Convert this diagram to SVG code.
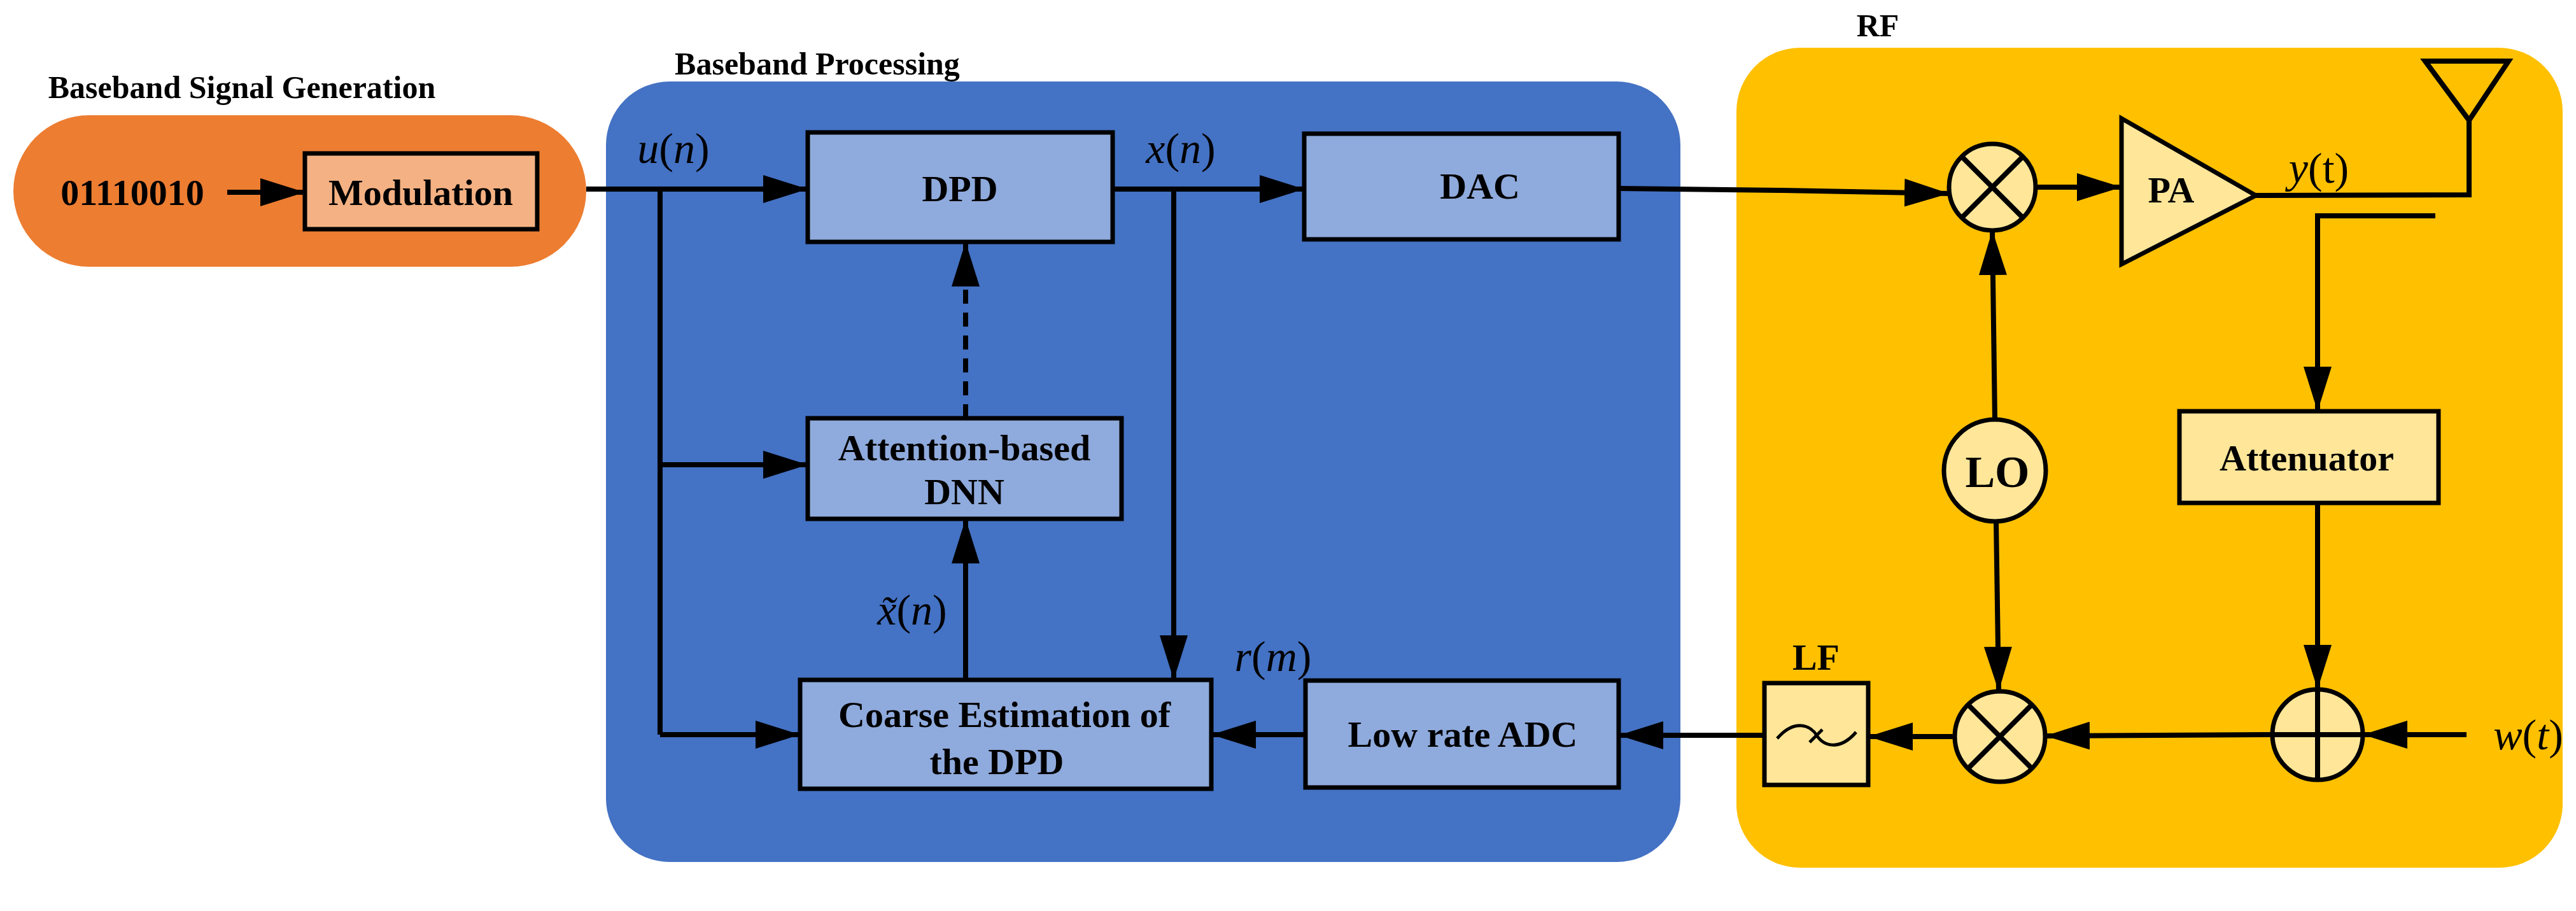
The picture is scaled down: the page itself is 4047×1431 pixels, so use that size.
<svg xmlns="http://www.w3.org/2000/svg" width="4047" height="1431" viewBox="0 0 4047 1431">
<defs>
<marker id="a" viewBox="0 0 10 10" refX="10" refY="5" markerWidth="70" markerHeight="44" markerUnits="userSpaceOnUse" preserveAspectRatio="none" orient="auto"><path d="M0,0 L10,5 L0,10 z" fill="#000"/></marker>
</defs>
<style>
.t{font-family:"Liberation Serif",serif;font-weight:bold;fill:#000;text-anchor:middle;dominant-baseline:central}
.m{font-family:"Liberation Serif",serif;font-style:italic;fill:#000;font-size:68px;text-anchor:middle;dominant-baseline:central}
.bx{stroke:#000;stroke-width:7}
.ln{stroke:#000;stroke-width:8;fill:none}
.bl{fill:#8FAADC}.yl{fill:#FFE699}
</style>
<g id="groups">
<rect x="21" y="181" width="900" height="238" rx="119" fill="#ED7D31"/>
<rect x="952" y="128" width="1688" height="1226" rx="100" fill="#4472C4"/>
<rect x="2728" y="75" width="1298" height="1288" rx="100" fill="#FFC000"/>
<text class="t" x="380" y="137" font-size="50">Baseband Signal Generation</text>
<text class="t" x="1284" y="100" font-size="50">Baseband Processing</text>
<text class="t" x="2950" y="40" font-size="50">RF</text>
</g>
<g id="bits"><text class="t" x="208" y="302" font-size="58">01110010</text></g>
<g id="modulation"><rect class="bx" x="479" y="241" width="365" height="119" fill="#F4B183"/><text class="t" x="661" y="302" font-size="58">Modulation</text></g>
<g id="dpd"><rect class="bx bl" x="1269" y="208" width="479" height="172"/><text class="t" x="1508" y="296" font-size="58">DPD</text></g>
<g id="dac"><rect class="bx bl" x="2049" y="210" width="494" height="166"/><text class="t" x="2325" y="292" font-size="58">DAC</text></g>
<g id="dnn"><rect class="bx bl" x="1269" y="657" width="493" height="158"/><text class="t" x="1515" y="703" font-size="58">Attention-based</text><text class="t" x="1515" y="772" font-size="58">DNN</text></g>
<g id="coarse"><rect class="bx bl" x="1257" y="1068" width="646" height="171"/><text class="t" x="1578" y="1122" font-size="58">Coarse Estimation of</text><text class="t" x="1566" y="1196" font-size="58">the DPD</text></g>
<g id="adc"><rect class="bx bl" x="2051" y="1069" width="492" height="168"/><text class="t" x="2298" y="1153" font-size="58">Low rate ADC</text></g>
<g id="mixer1"><circle class="bx yl" cx="3130" cy="294" r="68"/><path class="ln" d="M3082,246 L3178,342 M3178,246 L3082,342" stroke-width="6"/></g>
<g id="pa"><polygon class="bx yl" points="3333,186 3333,415 3544,307"/><text class="t" x="3411" y="298" font-size="58">PA</text></g>
<g id="antenna"><polygon class="ln" points="3810,96 3941,96 3879,189"/></g>
<g id="lo"><circle class="bx yl" cx="3134" cy="739" r="80"/><text class="t" x="3138" y="741" font-size="70">LO</text></g>
<g id="attenuator"><rect class="bx yl" x="3424" y="646" width="407" height="144"/><text class="t" x="3624" y="719" font-size="58">Attenuator</text></g>
<g id="adder"><circle class="bx yl" cx="3641" cy="1154" r="71"/><path class="ln" d="M3570,1154 L3712,1154 M3641,1083 L3641,1225" stroke-width="6"/></g>
<g id="mixer2"><circle class="bx yl" cx="3142" cy="1157" r="71"/><path class="ln" d="M3092,1107 L3192,1207 M3192,1107 L3092,1207" stroke-width="6"/></g>
<g id="lf"><rect class="bx yl" x="2772" y="1073" width="163" height="160"/><path d="M2792,1160 C2820,1128 2845,1140 2854,1155 C2865,1172 2890,1180 2916,1150 M2843,1166 L2863,1146" stroke="#000" stroke-width="5" fill="none"/><text class="t" x="2853" y="1032" font-size="58">LF</text></g>
<g id="labels">
<text class="m" x="1058" y="233">u<tspan font-style="normal">(</tspan>n<tspan font-style="normal">)</tspan></text>
<text class="m" x="1855" y="233">x<tspan font-style="normal">(</tspan>n<tspan font-style="normal">)</tspan></text>
<text class="m" x="1433" y="958">x̃<tspan font-style="normal">(</tspan>n<tspan font-style="normal">)</tspan></text>
<text class="m" x="2000" y="1031">r<tspan font-style="normal">(</tspan>m<tspan font-style="normal">)</tspan></text>
<text class="m" x="3643" y="264">y<tspan font-style="normal">(t)</tspan></text>
<text class="m" x="3972" y="1154">w<tspan font-style="normal">(</tspan>t<tspan font-style="normal">)</tspan></text>
</g>
<g id="connectors">
<line class="ln" x1="357" y1="302" x2="479" y2="302" marker-end="url(#a)"/>
<line class="ln" x1="921" y1="297" x2="1269" y2="297" marker-end="url(#a)"/>
<polyline class="ln" points="1037,297 1037,1154"/>
<line class="ln" x1="1037" y1="730" x2="1269" y2="730" marker-end="url(#a)"/>
<line class="ln" x1="1037" y1="1154" x2="1257" y2="1154" marker-end="url(#a)"/>
<line class="ln" x1="1517" y1="657" x2="1517" y2="380" stroke-dasharray="22,14" marker-end="url(#a)"/>
<line class="ln" x1="1517" y1="1068" x2="1517" y2="815" marker-end="url(#a)"/>
<line class="ln" x1="1748" y1="297" x2="2049" y2="297" marker-end="url(#a)"/>
<line class="ln" x1="1844" y1="297" x2="1844" y2="1068" marker-end="url(#a)"/>
<line class="ln" x1="2051" y1="1154" x2="1903" y2="1154" marker-end="url(#a)"/>
<polyline class="ln" points="2543,296 2800,299 3062,304" marker-end="url(#a)"/>
<line class="ln" x1="3198" y1="294" x2="3333" y2="294" marker-end="url(#a)"/>
<polyline class="ln" points="3544,307 3879,306 3879,189"/>
<polyline class="ln" points="3826,339 3641,339 3641,646" marker-end="url(#a)"/>
<line class="ln" x1="3641" y1="790" x2="3641" y2="1083" marker-end="url(#a)"/>
<line class="ln" x1="3875" y1="1154" x2="3712" y2="1154" marker-end="url(#a)"/>
<line class="ln" x1="3570" y1="1154" x2="3213" y2="1156" marker-end="url(#a)"/>
<line class="ln" x1="3134" y1="659" x2="3130" y2="362" marker-end="url(#a)"/>
<line class="ln" x1="3136" y1="819" x2="3140" y2="1086" marker-end="url(#a)"/>
<line class="ln" x1="3071" y1="1157" x2="2935" y2="1157" marker-end="url(#a)"/>
<line class="ln" x1="2772" y1="1155" x2="2543" y2="1155" marker-end="url(#a)"/>
</g>
</svg>
